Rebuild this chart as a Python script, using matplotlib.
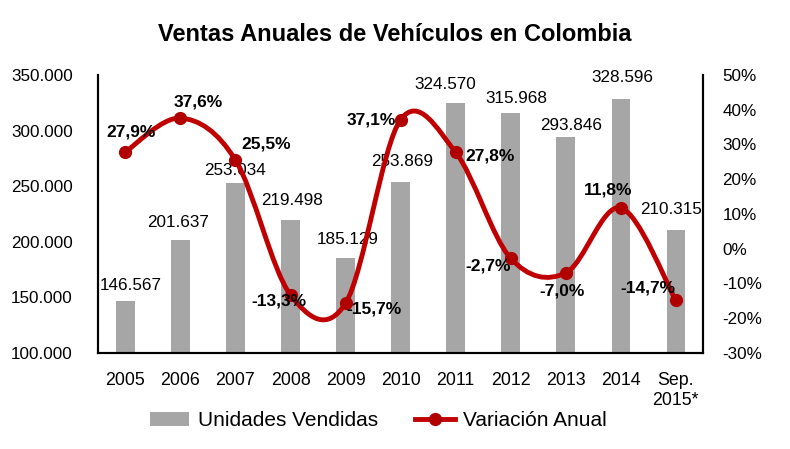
import numpy as np
import matplotlib
matplotlib.use('Agg')
import matplotlib.pyplot as plt
from matplotlib.path import Path
from matplotlib.patches import PathPatch
from matplotlib.lines import Line2D
from matplotlib.patches import Patch

# Datos del grafico
anios = ['2005', '2006', '2007', '2008', '2009', '2010', '2011', '2012', '2013', '2014', 'Sep.\n2015*']
unidades = [146567, 201637, 253034, 219498, 185129, 253869, 324570, 315968, 293846, 328596, 210315]
variacion = [27.9, 37.6, 25.5, -13.3, -15.7, 37.1, 27.8, -2.7, -7.0, 11.8, -14.7]

# desplazamientos de las etiquetas (pixeles)
off_unid = [(5, 16), (-2, 17), (0, 12), (2, 20), (2, 19), (2, 20), (-10, 19), (6, 14), (6, 12), (2, 21), (-5, 21)]
off_var = [(6, 20), (18, 16), (31, 16), (-12, -6), (28, -6), (-29, 0), (35, -4), (-22, -8), (-4, -18), (-12, 18), (-28, 12)]

plt.rcParams['font.family'] = ['Liberation Sans', 'DejaVu Sans']

GRIS = '#A6A6A6'
ROJO = '#C00000'


def fmt_miles(v):
    return f'{v:,.0f}'.replace(',', '.')


def fmt_pct(p):
    return f'{p:.1f}%'.replace('.', ',')


def curva_suave(x, y, sx, sy):
    # curva tipo Excel (Catmull-Rom a Bezier) calculada en espacio de pantalla
    px = np.asarray(x, float) * sx
    py = np.asarray(y, float) * sy
    verts = [(px[0], py[0])]
    codes = [Path.MOVETO]
    n = len(px)
    for i in range(n - 1):
        i0 = max(i - 1, 0)
        i3 = min(i + 2, n - 1)
        c1 = (px[i] + (px[i + 1] - px[i0]) / 6, py[i] + (py[i + 1] - py[i0]) / 6)
        c2 = (px[i + 1] - (px[i3] - px[i]) / 6, py[i + 1] - (py[i3] - py[i]) / 6)
        verts += [c1, c2, (px[i + 1], py[i + 1])]
        codes += [Path.CURVE4] * 3
    verts = [(vx / sx, vy / sy) for vx, vy in verts]
    return Path(verts, codes)


fig = plt.figure(figsize=(7.9, 4.49), dpi=100)
ax1 = fig.add_axes([0.124, 0.2138, 0.766, 0.6192])
ax2 = ax1.twinx()

x = np.arange(len(anios))
ax1.bar(x, unidades, width=0.33, color=GRIS, zorder=2)
ax1.set_ylim(100000, 350000)
ax1.set_xlim(-0.5, len(anios) - 0.5)
ax1.set_yticks(np.arange(100000, 350001, 50000))
ax1.set_yticklabels([fmt_miles(v) for v in np.arange(100000, 350001, 50000)])
ax1.set_xticks(x)
ax1.set_xticklabels(anios)

for i, v in enumerate(unidades):
    ax1.annotate(fmt_miles(v), (x[i], v), xytext=off_unid[i], textcoords='offset pixels',
                 ha='center', va='center', fontsize=12.3)

ax2.set_ylim(-30, 50)
ax2.set_yticks(np.arange(-30, 51, 10))
ax2.set_yticklabels([f'{t}%' for t in np.arange(-30, 51, 10)])

# linea suavizada
sx, sy = 55.0, 278.0 / 80.0
path = curva_suave(x, variacion, sx, sy)
ax2.add_patch(PathPatch(path, facecolor='none', edgecolor=ROJO, lw=3.5, capstyle='round', zorder=3))
ax2.plot(x, variacion, 'o', color='#B00000', markersize=8.5, zorder=4)

for i, p in enumerate(variacion):
    ax2.annotate(fmt_pct(p), (x[i], p), xytext=off_var[i], textcoords='offset pixels',
                 ha='center', va='center', fontsize=12.5, fontweight='bold', zorder=6)

for ax in (ax1, ax2):
    ax.spines['top'].set_visible(False)
    for s in ('left', 'right', 'bottom'):
        ax.spines[s].set_linewidth(1.5)
        ax.spines[s].set_color('black')
    ax.tick_params(length=0, labelsize=12.3)
ax1.tick_params(axis='y', pad=18)
ax2.tick_params(axis='y', pad=14)
ax1.tick_params(axis='x', pad=14, labelsize=12.8)

fig.suptitle('Ventas Anuales de Vehículos en Colombia', x=0.5, y=0.948, fontsize=17, fontweight='bold')

handles = [Patch(facecolor=GRIS, edgecolor='none'),
           Line2D([], [], color=ROJO, lw=3.5, marker='o', markersize=8.5, markerfacecolor='#B00000', markeredgecolor='#B00000')]
fig.legend(handles, ['Unidades Vendidas', 'Variación Anual'], loc='center', bbox_to_anchor=(0.479, 0.063),
           ncol=2, frameon=False, fontsize=15, handlelength=1.9, handletextpad=0.4, columnspacing=1.8)

fig.savefig('out.png', dpi=100)
